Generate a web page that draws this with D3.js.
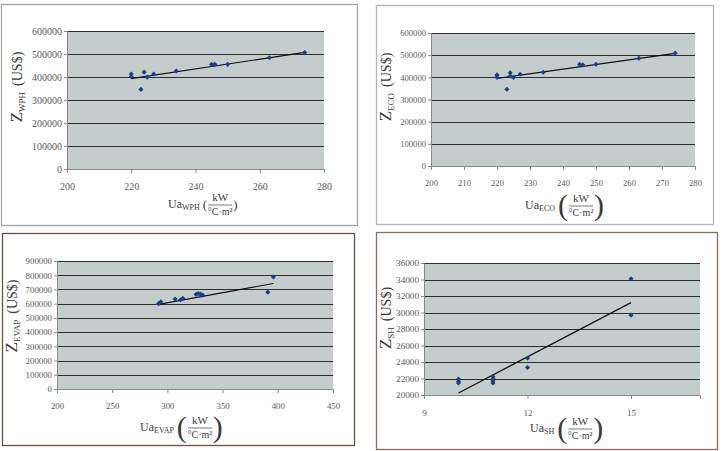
<!DOCTYPE html>
<html>
<head>
<meta charset="utf-8">
<script src="https://cdn.jsdelivr.net/npm/d3@7"></script>
<style>
body{margin:0;background:#fff;}
text{font-family:"Liberation Serif","Times New Roman",serif;}
</style>
</head>
<body>
<script>
// values
var wphUa=[220,220,223,224,225,227,234,245,246,250,263,274];
var wphZ=[413000,401000,346000,421000,399000,413000,426000,455000,455000,455000,484000,506000];
var wphTrend=[[220,393000],[274,507000]];

var ecoUa=[220,220,223,224,224,225,227,234,245,246,250,263,274];
var ecoZ=[411000,400000,346000,421000,406000,399000,414000,423000,459000,456000,459000,486000,509000];
var ecoTrend=[[220,395000],[274,508000]];

var evapUa=[292,294,307,312,314,326,328,330,332,391,396];
var evapZ=[600000,613000,632000,628000,637000,665000,672000,667000,660000,681000,787000];
var evapTrend=[[292,595000],[396,742000]];

var shUa=[10,10,10,11,11,11,11,12,12,15,15];
var shZ=[21930,21650,21450,22250,21970,21730,21450,24460,23330,34100,29680];
var shTrend=[[10,20250],[15,31200]];

var ticksX1=[200,220,240,260,280];
var ticksX2=[200,210,220,230,240,250,260,270,280];
var ticksX3=[200,250,300,350,400,450];
var ticksX4=[9,12,15];
var ticksY1=[0,100000,200000,300000,400000,500000,600000];
var ticksY3=[0,100000,200000,300000,400000,500000,600000,700000,800000,900000];
var ticksY4=[20000,22000,24000,26000,28000,30000,32000,34000,36000];

var svg=d3.select("body").append("svg")
	.attr("width",724)
	.attr("height",451);

var panels=[
	{box:[1,4,356,221],border:"#a9a4a2",plot:[67,31,324,169],xd:[200,280],yd:[0,600000],
	 xt:ticksX1,yt:ticksY1,ua:wphUa,z:wphZ,trend:wphTrend,sub:"WPH",fs:10,
	 yTitle:[22,87],xTitle:[168,205],ps:13},
	{box:[376,5,337,219],border:"#b3b3b3",plot:[431,33,695,166],xd:[200,280],yd:[0,600000],
	 xt:ticksX2,yt:ticksY1,ua:ecoUa,z:ecoZ,trend:ecoTrend,sub:"ECO",fs:8.6,
	 yTitle:[391,87],xTitle:[525,206],ps:30},
	{box:[2,233,352,212],border:"#6e4c40",plot:[57,261,333,389],xd:[200,450],yd:[0,900000],
	 xt:ticksX3,yt:ticksY3,ua:evapUa,z:evapZ,trend:evapTrend,sub:"EVAP",fs:8.8,
	 yTitle:[17,316],xTitle:[140,428],ps:30},
	{box:[376,232,341,217],border:"#8c6c5e",plot:[424,263,700,395],xd:[9,17],yd:[20000,36000],
	 xt:ticksX4,yt:ticksY4,ua:shUa,z:shZ,trend:shTrend,sub:"SH",fs:9.2,
	 yTitle:[391,318],xTitle:[530,429],ps:30}
];

panels.forEach(function(p){
	var g=svg.append("g");
	g.append("rect")
		.attr("x",p.box[0]+0.5).attr("y",p.box[1]+0.5)
		.attr("width",p.box[2]).attr("height",p.box[3])
		.style("fill","#fff").style("stroke",p.border).style("stroke-width",1.3);

	var x=d3.scaleLinear().domain(p.xd).range([p.plot[0],p.plot[2]]);
	var y=d3.scaleLinear().domain(p.yd).range([p.plot[3],p.plot[1]]);

	//plot background
	g.append("rect")
		.attr("x",p.plot[0]).attr("y",p.plot[1])
		.attr("width",p.plot[2]-p.plot[0]).attr("height",p.plot[3]-p.plot[1])
		.style("fill","#c3cecc");

	//gridlines
	g.selectAll(".grid").data(p.yt.slice(1)).enter().append("line")
		.attr("x1",p.plot[0]).attr("x2",p.plot[2])
		.attr("y1",function(d){return Math.round(y(d))+0.5;})
		.attr("y2",function(d){return Math.round(y(d))+0.5;})
		.style("stroke","#2e2e2e").style("stroke-width",1.2);

	var yAxis=d3.axisLeft(y).tickValues(p.yt).tickSize(3).tickPadding(2).tickFormat(d3.format("d"));
	var xAxis=d3.axisBottom(x).tickValues(p.xt).tickSize(4).tickPadding(10).tickFormat(d3.format("d"));
	var ya=g.append("g").attr("transform","translate("+p.plot[0]+",0)").call(yAxis);
	var xa=g.append("g").attr("transform","translate(0,"+p.plot[3]+")").call(xAxis);
	[ya,xa].forEach(function(a){
		a.select(".domain").style("stroke","#8a8a8a");
		a.selectAll(".tick line").style("stroke","#8a8a8a");
		a.selectAll("text").style("font-family","'Liberation Serif',serif")
			.style("font-size",p.fs+"px").style("fill","#5a5a5a");
	});

	//trend line
	g.append("line")
		.attr("x1",x(p.trend[0][0])).attr("y1",y(p.trend[0][1]))
		.attr("x2",x(p.trend[1][0])).attr("y2",y(p.trend[1][1]))
		.style("stroke","#111").style("stroke-width",1.2);

	//points
	g.selectAll(".pt").data(p.ua).enter().append("path")
		.attr("class","pt")
		.attr("d",d3.symbol(d3.symbolSquare,13))
		.attr("transform",function(d,i){return "translate("+x(d)+","+y(p.z[i])+") rotate(45)";})
		.style("fill","#1d3c8c");

	//y title
	var yt=g.append("text")
		.attr("transform","translate("+p.yTitle[0]+","+p.yTitle[1]+") rotate(-90)")
		.attr("text-anchor","middle")
		.style("fill","#3a3a3a");
	yt.append("tspan").style("font-size","17px").text("Z");
	yt.append("tspan").style("font-size","9px").attr("dy",2.5).text(p.sub);
	yt.append("tspan").style("font-size","14px").attr("dy",-2.5).attr("dx",6).text("(US$)");

	//x title with the fraction
	var xt=g.append("text").attr("x",p.xTitle[0]).attr("y",p.xTitle[1]+3)
		.style("fill","#3a3a3a").style("font-size","12px");
	xt.append("tspan").text("Ua");
	xt.append("tspan").style("font-size","8px").attr("dy",2).text(p.sub);
	var px=p.xTitle[0]+xt.node().getComputedTextLength()+3;
	var lp=g.append("text").attr("x",px).attr("y",p.xTitle[1]+p.ps*0.3)
		.style("font-size",p.ps+"px").style("fill","#3a3a3a").text("(");
	var pw=lp.node().getComputedTextLength();
	var fx=px+pw+1, fw=24;
	g.append("text").attr("x",fx+fw/2).attr("y",p.xTitle[1]-4)
		.attr("text-anchor","middle").style("font-size","11px").style("fill","#3a3a3a").text("kW");
	g.append("line").attr("x1",fx).attr("x2",fx+fw)
		.attr("y1",p.xTitle[1]).attr("y2",p.xTitle[1])
		.style("stroke","#555").style("stroke-width",0.8);
	g.append("text").attr("x",fx+fw/2).attr("y",p.xTitle[1]+10)
		.attr("text-anchor","middle").style("font-size","10px").style("fill","#3a3a3a").text("°C·m²");
	g.append("text").attr("x",fx+fw+1).attr("y",p.xTitle[1]+p.ps*0.3)
		.style("font-size",p.ps+"px").style("fill","#3a3a3a").text(")");
});
</script>
</body>
</html>
